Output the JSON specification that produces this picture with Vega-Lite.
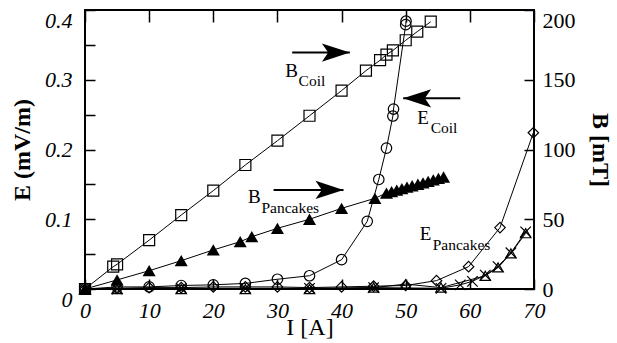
{
  "$schema": "https://vega.github.io/schema/vega-lite/v6.json",
  "width": 449,
  "height": 279,
  "autosize": "none",
  "padding": {"left": 85, "top": 10, "right": 83, "bottom": 54},
  "background": "white",
  "config": {
    "view": {"stroke": "black", "strokeWidth": 2},
    "font": "Liberation Serif",
    "axis": {"domain": false, "grid": false, "tickColor": "black", "tickWidth": 1.5, "labelColor": "black", "titleColor": "black"}
  },
  "datasets": {
    "pts": [
      {"s": "B_Coil", "q": "B", "I": 0, "v": 0},
      {"s": "B_Coil", "q": "B", "I": 4.4, "v": 16},
      {"s": "B_Coil", "q": "B", "I": 5, "v": 17.7},
      {"s": "B_Coil", "q": "B", "I": 10, "v": 35},
      {"s": "B_Coil", "q": "B", "I": 15, "v": 53},
      {"s": "B_Coil", "q": "B", "I": 20, "v": 70.5},
      {"s": "B_Coil", "q": "B", "I": 25, "v": 88.9},
      {"s": "B_Coil", "q": "B", "I": 30, "v": 106.3},
      {"s": "B_Coil", "q": "B", "I": 35, "v": 124.2},
      {"s": "B_Coil", "q": "B", "I": 40, "v": 142.2},
      {"s": "B_Coil", "q": "B", "I": 43.8, "v": 156.5},
      {"s": "B_Coil", "q": "B", "I": 46, "v": 164},
      {"s": "B_Coil", "q": "B", "I": 47, "v": 168},
      {"s": "B_Coil", "q": "B", "I": 48, "v": 171},
      {"s": "B_Coil", "q": "B", "I": 50, "v": 178.3},
      {"s": "B_Coil", "q": "B", "I": 51.8, "v": 184.5},
      {"s": "B_Coil", "q": "B", "I": 53.9, "v": 191.6},
      {"s": "B_Pancakes", "q": "B", "I": 0, "v": 0},
      {"s": "B_Pancakes", "q": "B", "I": 5, "v": 6.5},
      {"s": "B_Pancakes", "q": "B", "I": 10, "v": 13.1},
      {"s": "B_Pancakes", "q": "B", "I": 15, "v": 20.3},
      {"s": "B_Pancakes", "q": "B", "I": 20, "v": 28},
      {"s": "B_Pancakes", "q": "B", "I": 24.2, "v": 33.9},
      {"s": "B_Pancakes", "q": "B", "I": 26, "v": 37.5},
      {"s": "B_Pancakes", "q": "B", "I": 30, "v": 43.5},
      {"s": "B_Pancakes", "q": "B", "I": 35, "v": 50},
      {"s": "B_Pancakes", "q": "B", "I": 40, "v": 57.8},
      {"s": "B_Pancakes", "q": "B", "I": 45.2, "v": 65},
      {"s": "B_Pancakes", "q": "B", "I": 47.0, "v": 68.8},
      {"s": "B_Pancakes", "q": "B", "I": 47.8, "v": 69.8},
      {"s": "B_Pancakes", "q": "B", "I": 48.6, "v": 70.9},
      {"s": "B_Pancakes", "q": "B", "I": 49.4, "v": 71.9},
      {"s": "B_Pancakes", "q": "B", "I": 50.2, "v": 73.0},
      {"s": "B_Pancakes", "q": "B", "I": 51.0, "v": 74.0},
      {"s": "B_Pancakes", "q": "B", "I": 51.9, "v": 75.1},
      {"s": "B_Pancakes", "q": "B", "I": 52.7, "v": 76.1},
      {"s": "B_Pancakes", "q": "B", "I": 53.5, "v": 77.2},
      {"s": "B_Pancakes", "q": "B", "I": 54.3, "v": 78.2},
      {"s": "B_Pancakes", "q": "B", "I": 55.1, "v": 79.3},
      {"s": "B_Pancakes", "q": "B", "I": 55.9, "v": 80.3},
      {"s": "E_Coil", "q": "E", "I": 0, "v": 0},
      {"s": "E_Coil", "q": "E", "I": 5, "v": 0.003},
      {"s": "E_Coil", "q": "E", "I": 10, "v": 0.003},
      {"s": "E_Coil", "q": "E", "I": 15, "v": 0.005},
      {"s": "E_Coil", "q": "E", "I": 20, "v": 0.006},
      {"s": "E_Coil", "q": "E", "I": 25, "v": 0.008},
      {"s": "E_Coil", "q": "E", "I": 30, "v": 0.014},
      {"s": "E_Coil", "q": "E", "I": 35, "v": 0.019},
      {"s": "E_Coil", "q": "E", "I": 40, "v": 0.042},
      {"s": "E_Coil", "q": "E", "I": 44, "v": 0.097},
      {"s": "E_Coil", "q": "E", "I": 45.8, "v": 0.157},
      {"s": "E_Coil", "q": "E", "I": 47, "v": 0.202},
      {"s": "E_Coil", "q": "E", "I": 48, "v": 0.248},
      {"s": "E_Coil", "q": "E", "I": 48.1, "v": 0.258},
      {"s": "E_Coil", "q": "E", "I": 50, "v": 0.379},
      {"s": "E_Coil", "q": "E", "I": 50.05, "v": 0.384},
      {"s": "E_Pancakes_1", "q": "E", "I": 0, "v": 0},
      {"s": "E_Pancakes_1", "q": "E", "I": 5, "v": 0.001},
      {"s": "E_Pancakes_1", "q": "E", "I": 10, "v": 0.002},
      {"s": "E_Pancakes_1", "q": "E", "I": 15, "v": 0.002},
      {"s": "E_Pancakes_1", "q": "E", "I": 20, "v": 0.003},
      {"s": "E_Pancakes_1", "q": "E", "I": 25, "v": 0.003},
      {"s": "E_Pancakes_1", "q": "E", "I": 30, "v": 0.003},
      {"s": "E_Pancakes_1", "q": "E", "I": 35, "v": 0.002},
      {"s": "E_Pancakes_1", "q": "E", "I": 40, "v": 0.003},
      {"s": "E_Pancakes_1", "q": "E", "I": 45, "v": 0.004},
      {"s": "E_Pancakes_1", "q": "E", "I": 50, "v": 0.005},
      {"s": "E_Pancakes_1", "q": "E", "I": 54.8, "v": 0.012},
      {"s": "E_Pancakes_1", "q": "E", "I": 59.8, "v": 0.032},
      {"s": "E_Pancakes_1", "q": "E", "I": 64.7, "v": 0.088},
      {"s": "E_Pancakes_1", "q": "E", "I": 69.9, "v": 0.224},
      {"s": "E_Pancakes_2", "q": "E", "I": 0, "v": 0},
      {"s": "E_Pancakes_2", "q": "E", "I": 5, "v": 0},
      {"s": "E_Pancakes_2", "q": "E", "I": 15, "v": 0.001},
      {"s": "E_Pancakes_2", "q": "E", "I": 25, "v": 0.001},
      {"s": "E_Pancakes_2", "q": "E", "I": 35, "v": 0.001},
      {"s": "E_Pancakes_2", "q": "E", "I": 45, "v": 0.002},
      {"s": "E_Pancakes_2", "q": "E", "I": 55.5, "v": 0.001},
      {"s": "E_Pancakes_2", "q": "E", "I": 58.5, "v": 0.006},
      {"s": "E_Pancakes_2", "q": "E", "I": 60.4, "v": 0.011},
      {"s": "E_Pancakes_2", "q": "E", "I": 62.4, "v": 0.02},
      {"s": "E_Pancakes_2", "q": "E", "I": 64.4, "v": 0.032},
      {"s": "E_Pancakes_2", "q": "E", "I": 66.4, "v": 0.052},
      {"s": "E_Pancakes_2", "q": "E", "I": 68.7, "v": 0.082},
      {"s": "E_Pancakes_3", "q": "E", "I": 0, "v": 0},
      {"s": "E_Pancakes_3", "q": "E", "I": 5, "v": 0},
      {"s": "E_Pancakes_3", "q": "E", "I": 15, "v": 0},
      {"s": "E_Pancakes_3", "q": "E", "I": 25, "v": 0},
      {"s": "E_Pancakes_3", "q": "E", "I": 35, "v": 0},
      {"s": "E_Pancakes_3", "q": "E", "I": 45, "v": 0.002},
      {"s": "E_Pancakes_3", "q": "E", "I": 50, "v": 0.007},
      {"s": "E_Pancakes_3", "q": "E", "I": 55.5, "v": 0.002},
      {"s": "E_Pancakes_3", "q": "E", "I": 62.4, "v": 0.019},
      {"s": "E_Pancakes_3", "q": "E", "I": 64.4, "v": 0.031},
      {"s": "E_Pancakes_3", "q": "E", "I": 66.4, "v": 0.051},
      {"s": "E_Pancakes_3", "q": "E", "I": 68.7, "v": 0.08}
    ],
    "labels": [
      {"t": "B", "part": "main", "I": 31.2, "v": 0.304},
      {"t": "Coil", "part": "sub", "I": 33.3, "v": 0.291},
      {"t": "E", "part": "main", "I": 51.8, "v": 0.237},
      {"t": "Coil", "part": "sub", "I": 53.9, "v": 0.224},
      {"t": "B", "part": "main", "I": 25.4, "v": 0.1233},
      {"t": "Pancakes", "part": "sub", "I": 27.5, "v": 0.109},
      {"t": "E", "part": "main", "I": 52.2, "v": 0.0703},
      {"t": "Pancakes", "part": "sub", "I": 54.2, "v": 0.0559}
    ],
    "arrows": [
      {"a": "B_Coil", "I": 32.3, "I2": 41.3, "v": 0.339, "dir": "right"},
      {"a": "E_Coil", "I": 58.5, "I2": 49.6, "v": 0.2734, "dir": "left"},
      {"a": "B_Pancakes", "I": 29.4, "I2": 40.3, "v": 0.142, "dir": "right"}
    ]
  },
  "data": {"name": "pts"},
  "layer": [
    {
      "transform": [{"filter": "datum.q == 'E'"}],
      "encoding": {
        "x": {"field": "I", "type": "quantitative", "scale": {"domain": [0, 70], "nice": false},
          "axis": {"orient": "bottom", "values": [0, 10, 20, 30, 40, 50, 60, 70], "tickSize": -10, "labelPadding": 21, "labelFlush": false, "labelFont": "Liberation Serif", "labelFontSize": 22, "labelFontStyle": "italic", "title": "I [A]", "titleFont": "Liberation Serif", "titleFontSize": 24, "titleFontWeight": "normal", "titlePadding": -6}},
        "y": {"field": "v", "type": "quantitative", "scale": {"domain": [0, 0.4], "nice": false},
          "axis": {"orient": "left", "values": [0, 0.05, 0.1, 0.15, 0.2, 0.25, 0.3, 0.35, 0.4], "tickSize": -10, "labelPadding": 23, "labelFlush": false, "labelFont": "Liberation Serif", "labelFontSize": 22, "labelFontStyle": "italic",
            "labelExpr": "abs(datum.value * 10 - round(datum.value * 10)) < 0.000001 ? format(datum.value, '.1~f') : ''",
            "labelBaseline": {"condition": {"test": "datum.value === 0 || datum.value === 0.4", "value": "top"}, "value": "middle"},
            "title": "E (mV/m)", "titleFont": "Liberation Serif", "titleFontSize": 24, "titleFontWeight": "bold", "titlePadding": 10}}
      },
      "layer": [
        {"mark": {"type": "line", "color": "black", "strokeWidth": 1}, "encoding": {"detail": {"field": "s"}}},
        {"mark": {"type": "point", "filled": false, "color": "black", "strokeWidth": 1.2, "opacity": 1},
          "encoding": {
            "shape": {"field": "s", "type": "nominal", "legend": null,
              "scale": {"domain": ["E_Coil", "E_Pancakes_1", "E_Pancakes_2", "E_Pancakes_3"], "range": ["circle", "diamond", "M-1,-1L1,1M-1,1L1,-1", "triangle-up"]}},
            "size": {"field": "s", "type": "nominal", "legend": null,
              "scale": {"domain": ["E_Coil", "E_Pancakes_1", "E_Pancakes_2", "E_Pancakes_3"], "range": [110, 110, 110, 150]}}
          }},
        {"data": {"name": "arrows"}, "mark": {"type": "rule", "color": "black", "strokeWidth": 2},
          "encoding": {"x2": {"field": "I2"}}},
        {"data": {"name": "arrows"}, "transform": [{"filter": "datum.dir == 'right'"}],
          "mark": {"type": "point", "filled": true, "color": "black", "opacity": 1, "size": 784, "shape": "M0,0L-2,-0.65L-1.55,0L-2,0.65Z"},
          "encoding": {"x": {"field": "I2", "type": "quantitative"}}},
        {"data": {"name": "arrows"}, "transform": [{"filter": "datum.dir == 'left'"}],
          "mark": {"type": "point", "filled": true, "color": "black", "opacity": 1, "size": 784, "shape": "M0,0L2,-0.65L1.55,0L2,0.65Z"},
          "encoding": {"x": {"field": "I2", "type": "quantitative"}}},
        {"data": {"name": "labels"}, "transform": [{"filter": "datum.part == 'main'"}],
          "mark": {"type": "text", "align": "left", "baseline": "alphabetic", "font": "Liberation Serif", "fontSize": 19, "color": "black"},
          "encoding": {"text": {"field": "t"}}},
        {"data": {"name": "labels"}, "transform": [{"filter": "datum.part == 'sub'"}],
          "mark": {"type": "text", "align": "left", "baseline": "alphabetic", "font": "Liberation Serif", "fontSize": 15.5, "color": "black"},
          "encoding": {"text": {"field": "t"}}}
      ]
    },
    {
      "transform": [{"filter": "datum.q == 'B'"}],
      "encoding": {
        "x": {"field": "I", "type": "quantitative", "scale": {"domain": [0, 70], "nice": false},
          "axis": {"orient": "top", "values": [0, 10, 20, 30, 40, 50, 60, 70], "tickSize": -12, "labels": false, "title": null}},
        "y": {"field": "v", "type": "quantitative", "scale": {"domain": [0, 200], "nice": false},
          "axis": {"orient": "right", "values": [0, 50, 100, 150, 200], "tickSize": -10, "labelPadding": 18, "labelFlush": false, "labelFont": "Liberation Serif", "labelFontSize": 22,
            "labelBaseline": {"condition": {"test": "datum.value === 200", "value": "top"}, "value": "middle"},
            "title": "B [mT]", "titleFont": "Liberation Serif", "titleFontSize": 24, "titleFontWeight": "bold", "titlePadding": 12}}
      },
      "layer": [
        {"mark": {"type": "line", "color": "black", "strokeWidth": 1}, "encoding": {"detail": {"field": "s"}}},
        {"transform": [{"filter": "datum.s == 'B_Coil'"}],
          "mark": {"type": "point", "shape": "square", "filled": false, "color": "black", "strokeWidth": 1.2, "opacity": 1, "size": 121}},
        {"transform": [{"filter": "datum.s == 'B_Pancakes'"}],
          "mark": {"type": "point", "shape": "triangle-up", "filled": true, "color": "black", "opacity": 1, "size": 170}}
      ]
    }
  ],
  "resolve": {"scale": {"y": "independent"}, "axis": {"x": "independent"}}
}
